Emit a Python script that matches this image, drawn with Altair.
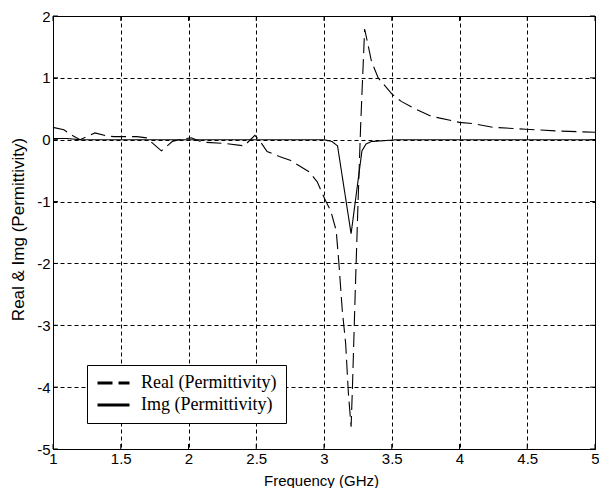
import altair as alt
import pandas as pd

# ---- data ----
series_names = ["Real (Permittivity)", "Img (Permittivity)"]

real_freq = [1.00, 1.08, 1.15, 1.20, 1.25, 1.31, 1.40, 1.45, 1.62, 1.69, 1.80, 1.88,
             1.95, 2.02, 2.10, 2.27, 2.41, 2.49, 2.53, 2.58, 2.67, 2.75, 2.89, 2.95,
             3.01, 3.05, 3.09, 3.11, 3.135, 3.16, 3.18, 3.20, 3.21, 3.23, 3.25, 3.27,
             3.285, 3.30, 3.35, 3.40, 3.50, 3.57, 3.67, 3.79, 4.00, 4.10, 4.25, 4.49,
             4.73, 5.00]
real_val = [0.20, 0.16, 0.06, 0.00, 0.05, 0.11, 0.06, 0.05, 0.05, 0.03, -0.18, -0.03,
            0.01, 0.03, -0.04, -0.06, -0.10, 0.07, -0.03, -0.19, -0.27, -0.33, -0.52, -0.68,
            -0.98, -1.15, -1.47, -2.00, -2.76, -3.30, -4.10, -4.64, -4.00, -2.50, -1.10, 0.20,
            1.00, 1.79, 1.27, 1.00, 0.74, 0.62, 0.50, 0.38, 0.28, 0.26, 0.20, 0.17,
            0.14, 0.12]

img_freq = [1.00, 1.10, 1.20, 1.50, 2.00, 2.50, 3.00, 3.06, 3.10, 3.20, 3.28, 3.31,
            3.35, 3.54, 4.00, 5.00]
img_val = [0.02, 0.02, 0.00, 0.00, 0.00, 0.00, 0.00, -0.03, -0.10, -1.52, -0.18, -0.07,
           -0.03, 0.00, 0.00, 0.00]

x_ticks = [1, 1.5, 2, 2.5, 3, 3.5, 4, 4.5, 5]
y_ticks = [-5, -4, -3, -2, -1, 0, 1, 2]

W, H = 542, 433
font = "Liberation Sans, Arial, sans-serif"
serif = "Liberation Serif, Times New Roman, serif"

df = pd.DataFrame({
    "freq": real_freq + img_freq,
    "val": real_val + img_val,
    "series": [series_names[0]] * len(real_freq) + [series_names[1]] * len(img_freq),
})
xt = pd.DataFrame({"freq": x_ticks})
yt = pd.DataFrame({"val": y_ticks})

x_scale = alt.Scale(domain=[1, 5], nice=False, zero=False)
y_scale = alt.Scale(domain=[-5, 2], nice=False, zero=False)

x_axis = alt.Axis(values=x_ticks, title="Frequency (GHz)", labelExpr="datum.value + ''",
                  grid=True, gridColor="black", gridDash=[4, 3], gridWidth=1, gridOpacity=1,
                  ticks=False, domain=False, labelFont=font, labelFontSize=15,
                  labelColor="black", labelPadding=2, labelFlush=False, labelOverlap=False,
                  titleFont=font, titleFontSize=15, titleFontWeight="normal",
                  titleColor="black", titleX=268, titleY=24, titleBaseline="top")
y_axis = alt.Axis(values=y_ticks, title="Real & Img (Permittivity)", labelExpr="datum.value + ''",
                  grid=True, gridColor="black", gridDash=[4, 3], gridWidth=1, gridOpacity=1,
                  ticks=False, domain=False, labelFont=font, labelFontSize=15,
                  labelColor="black", labelPadding=3, labelFlush=False, labelOverlap=False,
                  titleFont=font, titleFontSize=17, titleFontWeight="normal",
                  titleColor="black", titleX=-26, titleY=213, titleBaseline="bottom")

legend = alt.Legend(title=None, orient="none", legendX=34, legendY=349,
                    fillColor="white", strokeColor="black", padding=9, cornerRadius=0,
                    symbolType="stroke", symbolSize=1024, symbolStrokeWidth=3,
                    symbolStrokeColor="black", labelFont=serif,
                    labelFontSize=18, labelColor="black", labelOffset=10, rowPadding=4,
                    clipHeight=18, labelLimit=400, direction="vertical")

x_enc = alt.X("freq:Q", scale=x_scale, axis=x_axis)
y_enc = alt.Y("val:Q", scale=y_scale, axis=y_axis)

lines = alt.Chart(df).mark_line(color="black", strokeWidth=1.1).encode(
    x=x_enc,
    y=y_enc,
    strokeDash=alt.StrokeDash("series:N",
                              scale=alt.Scale(domain=series_names, range=[[15, 6], [1, 0]]),
                              legend=legend),
)

tick_len = 5
xt_bot = alt.Chart(xt).mark_rule(color="black", strokeWidth=1).encode(
    x=x_enc, y=alt.value(H), y2=alt.value(H - tick_len))
xt_top = alt.Chart(xt).mark_rule(color="black", strokeWidth=1).encode(
    x=x_enc, y=alt.value(0), y2=alt.value(tick_len))
yt_left = alt.Chart(yt).mark_rule(color="black", strokeWidth=1).encode(
    y=y_enc, x=alt.value(0), x2=alt.value(tick_len))
yt_right = alt.Chart(yt).mark_rule(color="black", strokeWidth=1).encode(
    y=y_enc, x=alt.value(W), x2=alt.value(W - tick_len))

chart = alt.layer(lines, xt_bot, xt_top, yt_left, yt_right).properties(
    width=W, height=H,
    padding={"left": 45, "top": 8, "right": 4, "bottom": 39},
    autosize=alt.AutoSizeParams(type="none"),
    background="white",
).configure_view(stroke="black", strokeWidth=1)

chart.save("out.html", embed_options={"renderer": "svg", "actions": False})
